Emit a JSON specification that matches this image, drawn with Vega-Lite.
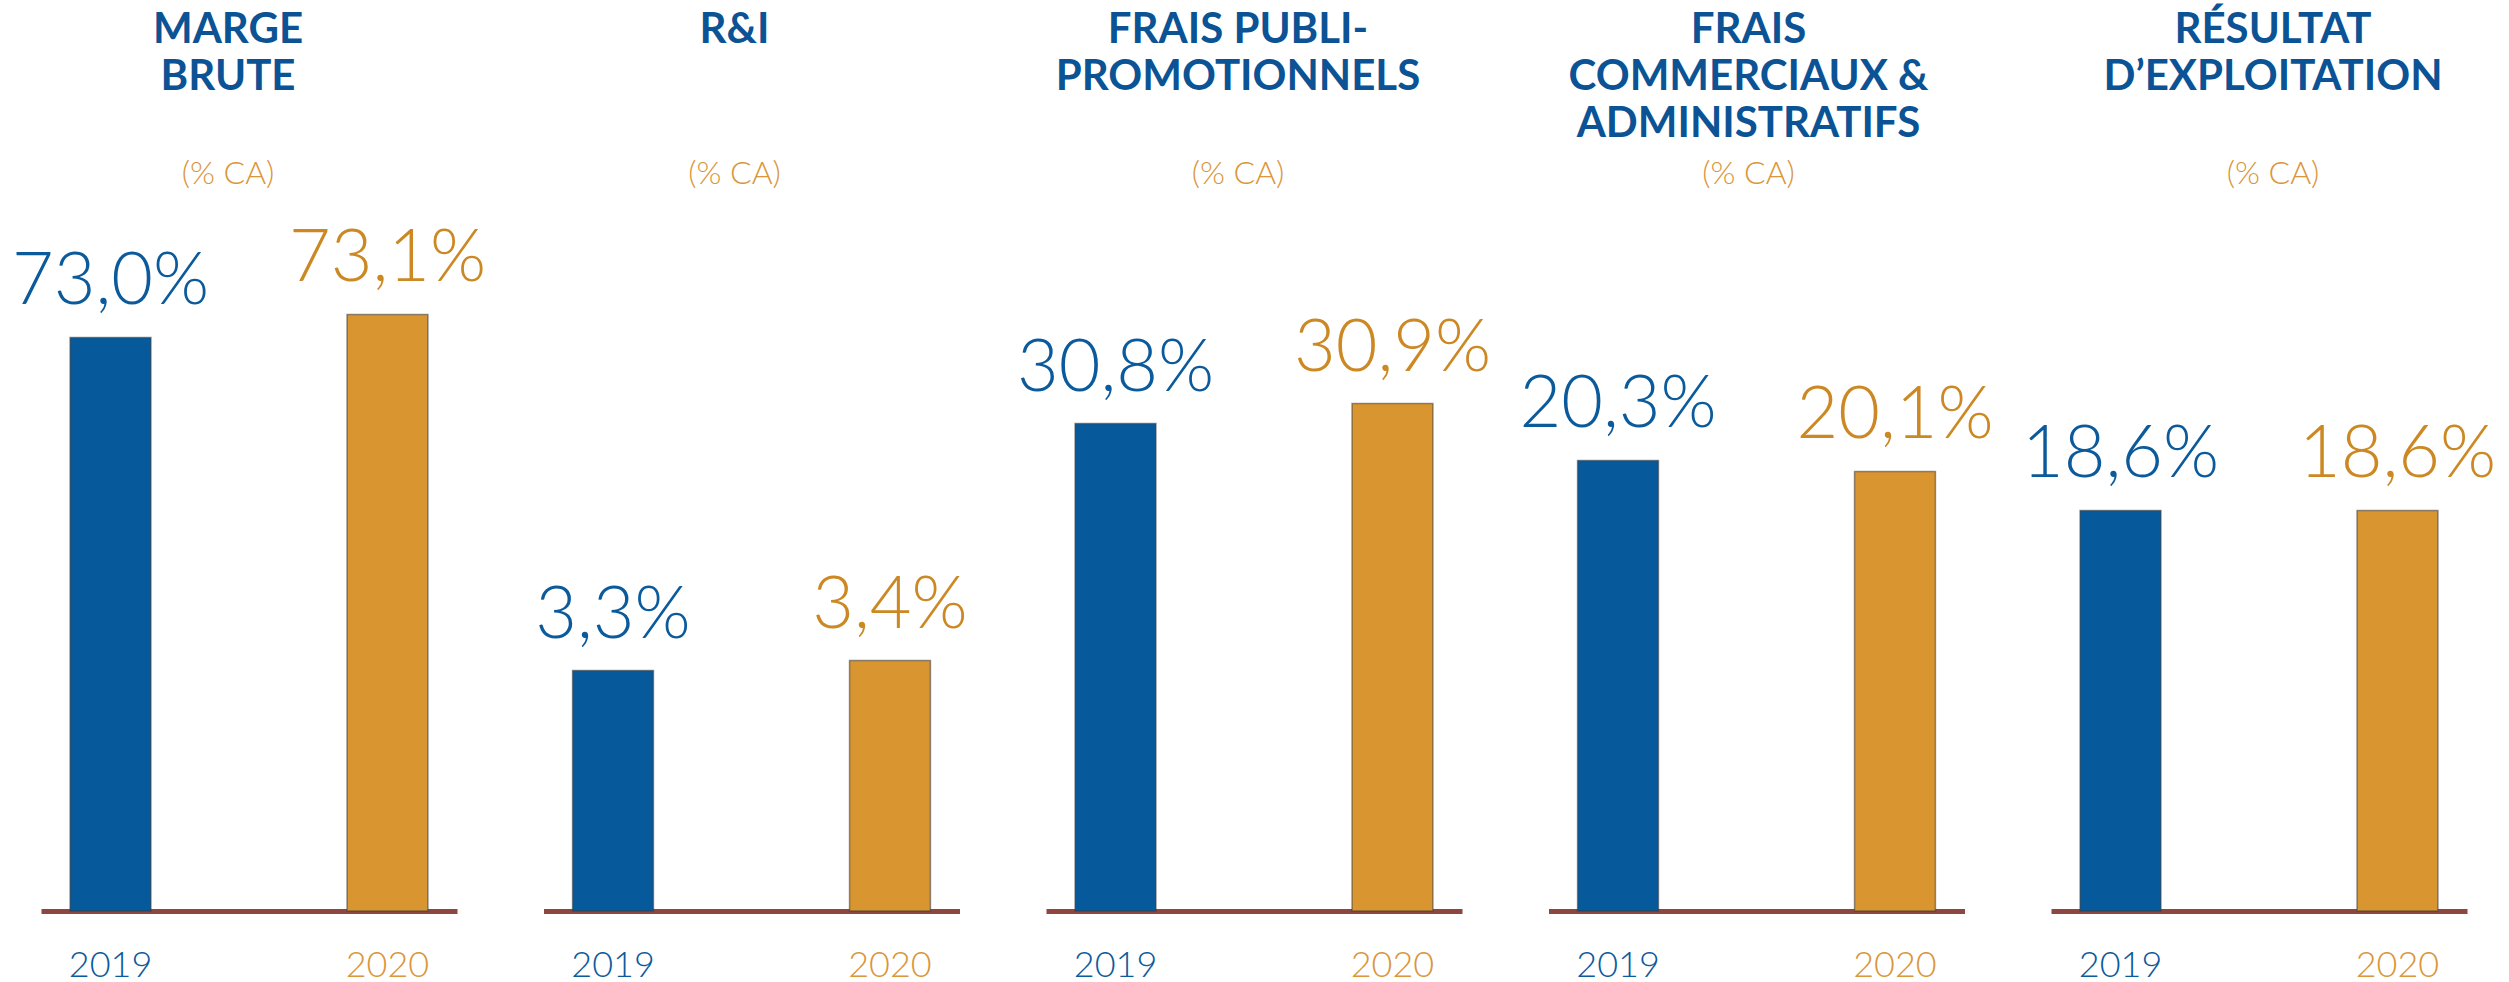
{
  "$schema": "https://vega.github.io/schema/vega-lite/v6.json",
  "padding": {"left": 11, "top": 9, "right": 0, "bottom": 0},
  "background": "white",
  "datasets": {
    "vals": [
      {"panel": "P1", "year": "2019", "value": 73.0},
      {"panel": "P1", "year": "2020", "value": 73.1},
      {"panel": "P2", "year": "2019", "value": 3.3},
      {"panel": "P2", "year": "2020", "value": 3.4},
      {"panel": "P3", "year": "2019", "value": 30.8},
      {"panel": "P3", "year": "2020", "value": 30.9},
      {"panel": "P4", "year": "2019", "value": 20.3},
      {"panel": "P4", "year": "2020", "value": 20.1},
      {"panel": "P5", "year": "2019", "value": 18.6},
      {"panel": "P5", "year": "2020", "value": 18.6}
    ]
  },
  "data": {"name": "vals"},
  "transform": [
    {"calculate": "replace(format(datum.value, '.1f'), '.', ',') + '%'", "as": "label"}
  ],
  "bounds": "flush",
  "spacing": 86.5,
  "hconcat": [
    {
      "width": 416, "height": 695,
      "title": {"text": ["MARGE", "BRUTE", ""], "subtitle": "(% CA)", "dx": -21},
      "transform": [{"filter": "datum.panel == 'P1'"}],
      "encoding": {
        "x": {"field": "year", "type": "nominal"},
        "y": {"field": "value", "type": "quantitative", "scale": {"domain": [70.5065, 73.528], "zero": false, "nice": false, "clamp": true}, "axis": null}
      },
      "layer": [
        {"mark": {"type": "bar", "stroke": "#3a3a3a", "strokeWidth": 1.5, "strokeOpacity": 0.55},
         "encoding": {"color": {"field": "year", "type": "nominal", "legend": null, "scale": {"range": ["#065a9b", "#d99530"]}}}},
        {"mark": {"type": "text", "dy": -33, "baseline": "alphabetic"},
         "encoding": {"text": {"field": "label"}, "color": {"field": "year", "type": "nominal", "legend": null, "scale": {"range": ["#0b5a9c", "#cc8823"]}}}}
      ],
      "resolve": {"scale": {"color": "independent"}}
    },
    {
      "width": 416, "height": 695,
      "title": {"text": ["R&I", "", ""], "subtitle": "(% CA)", "dx": -17},
      "transform": [{"filter": "datum.panel == 'P2'"}],
      "encoding": {
        "x": {"field": "year", "type": "nominal"},
        "y": {"field": "value", "type": "quantitative", "scale": {"domain": [0.895, 7.845], "zero": false, "nice": false, "clamp": true}, "axis": null}
      },
      "layer": [
        {"mark": {"type": "bar", "stroke": "#3a3a3a", "strokeWidth": 1.5, "strokeOpacity": 0.55},
         "encoding": {"color": {"field": "year", "type": "nominal", "legend": null, "scale": {"range": ["#065a9b", "#d99530"]}}}},
        {"mark": {"type": "text", "dy": -33, "baseline": "alphabetic"},
         "encoding": {"text": {"field": "label"}, "color": {"field": "year", "type": "nominal", "legend": null, "scale": {"range": ["#0b5a9c", "#cc8823"]}}}}
      ],
      "resolve": {"scale": {"color": "independent"}}
    },
    {
      "width": 416, "height": 695,
      "title": {"text": ["FRAIS PUBLI-", "PROMOTIONNELS", ""], "subtitle": "(% CA)", "dx": -16},
      "transform": [{"filter": "datum.panel == 'P3'"}],
      "encoding": {
        "x": {"field": "year", "type": "nominal"},
        "y": {"field": "value", "type": "quantitative", "scale": {"domain": [28.3625, 31.8375], "zero": false, "nice": false, "clamp": true}, "axis": null}
      },
      "layer": [
        {"mark": {"type": "bar", "stroke": "#3a3a3a", "strokeWidth": 1.5, "strokeOpacity": 0.55},
         "encoding": {"color": {"field": "year", "type": "nominal", "legend": null, "scale": {"range": ["#065a9b", "#d99530"]}}}},
        {"mark": {"type": "text", "dy": -33, "baseline": "alphabetic"},
         "encoding": {"text": {"field": "label"}, "color": {"field": "year", "type": "nominal", "legend": null, "scale": {"range": ["#0b5a9c", "#cc8823"]}}}}
      ],
      "resolve": {"scale": {"color": "independent"}}
    },
    {
      "width": 416, "height": 695,
      "title": {"text": ["FRAIS", "COMMERCIAUX &", "ADMINISTRATIFS"], "subtitle": "(% CA)", "dx": -8},
      "transform": [{"filter": "datum.panel == 'P4'"}],
      "encoding": {
        "x": {"field": "year", "type": "nominal"},
        "y": {"field": "value", "type": "quantitative", "scale": {"domain": [12.109, 24.745], "zero": false, "nice": false, "clamp": true}, "axis": null}
      },
      "layer": [
        {"mark": {"type": "bar", "stroke": "#3a3a3a", "strokeWidth": 1.5, "strokeOpacity": 0.55},
         "encoding": {"color": {"field": "year", "type": "nominal", "legend": null, "scale": {"range": ["#065a9b", "#d99530"]}}}},
        {"mark": {"type": "text", "dy": -33, "baseline": "alphabetic"},
         "encoding": {"text": {"field": "label"}, "color": {"field": "year", "type": "nominal", "legend": null, "scale": {"range": ["#0b5a9c", "#cc8823"]}}}}
      ],
      "resolve": {"scale": {"color": "independent"}}
    },
    {
      "width": 416, "height": 695,
      "title": {"text": ["RÉSULTAT", "D’EXPLOITATION", ""], "subtitle": "(% CA)", "dx": 14},
      "transform": [{"filter": "datum.panel == 'P5'"}],
      "encoding": {
        "x": {"field": "year", "type": "nominal"},
        "y": {"field": "value", "type": "quantitative", "scale": {"domain": [0, 32.277], "nice": false, "clamp": true}, "axis": null}
      },
      "layer": [
        {"mark": {"type": "bar", "stroke": "#3a3a3a", "strokeWidth": 1.5, "strokeOpacity": 0.55},
         "encoding": {"color": {"field": "year", "type": "nominal", "legend": null, "scale": {"range": ["#065a9b", "#d99530"]}}}},
        {"mark": {"type": "text", "dy": -33, "baseline": "alphabetic"},
         "encoding": {"text": {"field": "label"}, "color": {"field": "year", "type": "nominal", "legend": null, "scale": {"range": ["#0b5a9c", "#cc8823"]}}}}
      ],
      "resolve": {"scale": {"color": "independent"}}
    }
  ],
  "config": {
    "view": {"stroke": null},
    "text": {"font": "Lato", "fontWeight": 300, "fontSize": 72, "align": "center"},
    "scale": {"bandPaddingInner": 0.708, "bandPaddingOuter": 0.105},
    "axisX": {
      "title": null,
      "ticks": false,
      "grid": false,
      "domainColor": "#8e4641",
      "domainWidth": 5,
      "labelAngle": 0,
      "labelFont": "Lato",
      "labelFontWeight": 300,
      "labelFontSize": 36,
      "labelPadding": 37,
      "labelColor": {"condition": {"test": "datum.value == '2019'", "value": "#0b5a9c"}, "value": "#d9963a"}
    },
    "title": {
      "font": "Lato",
      "fontSize": 42,
      "fontWeight": "bold",
      "color": "#0b5394",
      "lineHeight": 47,
      "anchor": "middle",
      "offset": 25,
      "subtitleFont": "Lato",
      "subtitleFontSize": 32,
      "subtitleFontWeight": 300,
      "subtitleColor": "#d9963a",
      "subtitlePadding": 13
    }
  }
}
